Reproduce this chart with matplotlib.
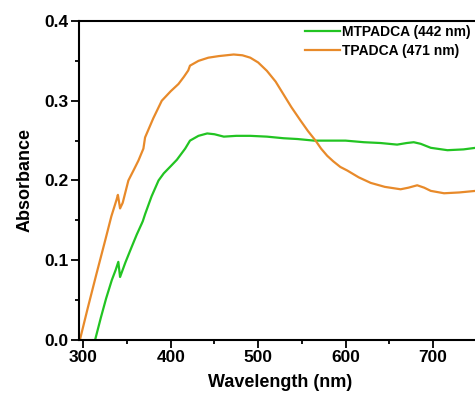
import matplotlib
matplotlib.use("Agg")
import matplotlib.pyplot as plt
from matplotlib.ticker import MultipleLocator, FormatStrFormatter

# MTPADCA (green)
mtpadca_wl = [313.4, 320, 326, 332.5, 337, 340, 342, 348, 355, 361, 366.8, 368, 370.7,
              378, 386, 392, 400, 407, 416.5, 422, 431.7, 441.7, 450, 460.7, 475, 491, 510,
              529, 545, 564, 583, 600, 621, 640, 659, 670, 678, 686, 697.5, 716.6, 735, 749]
mtpadca_abs = [0.0, 0.028, 0.052, 0.075, 0.088, 0.098, 0.079, 0.097, 0.116, 0.132, 0.146,
               0.149, 0.158, 0.180, 0.200, 0.209, 0.218, 0.226, 0.240, 0.250, 0.256, 0.259,
               0.258, 0.255, 0.256, 0.256, 0.255, 0.253, 0.252, 0.250, 0.250, 0.250, 0.248,
               0.247, 0.245, 0.247, 0.248, 0.246, 0.241, 0.238, 0.239, 0.241]

# TPADCA (orange)
tpadca_wl = [296, 305, 315, 325, 332, 338, 339.5, 342, 345, 351.5, 358, 363, 368.7, 370.6,
             380, 389.7, 400, 408.8, 415, 420, 422, 431.7, 443, 455, 472, 482, 491, 500,
             510, 520, 529, 538, 548.6, 557, 565.7, 572, 579, 586, 594, 602, 615, 628.8,
             645, 663, 672, 682, 690, 697.5, 712.7, 730, 749]
tpadca_abs = [0.0, 0.040, 0.083, 0.125, 0.155, 0.176, 0.182, 0.165, 0.172, 0.200, 0.214,
              0.225, 0.240, 0.254, 0.278, 0.300, 0.312, 0.321, 0.330, 0.338, 0.344, 0.350,
              0.354, 0.356, 0.358, 0.357, 0.354, 0.348, 0.3375, 0.324, 0.308, 0.292,
              0.275, 0.262, 0.250, 0.240, 0.231, 0.224, 0.217, 0.2125, 0.204, 0.197,
              0.192, 0.189, 0.191, 0.194, 0.191, 0.187, 0.184, 0.185, 0.187]

labels = ["MTPADCA (442 nm)", "TPADCA (471 nm)"]
colors = ["#22c422", "#e88a2a"]

plt.rcParams["font.family"] = ["Liberation Sans", "DejaVu Sans"]
plt.rcParams["font.weight"] = "bold"

fig = plt.figure(figsize=(4.75, 3.96), dpi=100)
# axes runs just past the right edge: the reference image is cropped there
ax = fig.add_axes([79 / 475, 56 / 396, 402 / 475, 319 / 396])

ax.plot(mtpadca_wl, mtpadca_abs, color=colors[0], lw=1.6, label=labels[0])
ax.plot(tpadca_wl, tpadca_abs, color=colors[1], lw=1.6, label=labels[1])

ax.set_xlim(295, 755)
ax.set_ylim(0, 0.4)
ax.xaxis.set_major_locator(MultipleLocator(100))
ax.xaxis.set_minor_locator(MultipleLocator(50))
ax.yaxis.set_major_locator(MultipleLocator(0.1))
ax.yaxis.set_minor_locator(MultipleLocator(0.05))
ax.yaxis.set_major_formatter(FormatStrFormatter("%.1f"))

ax.tick_params(which="major", direction="out", length=5.5, width=1.3, labelsize=12.5, pad=2)
ax.tick_params(which="minor", direction="out", length=3, width=1.3)
for s in ax.spines.values():
    s.set_linewidth(1.5)

ax.set_xlabel("Wavelength (nm)", fontsize=13, fontweight="bold", labelpad=6)
ax.set_ylabel("Absorbance", fontsize=13, fontweight="bold", labelpad=8)

ax.legend(loc="upper left", bbox_to_anchor=(305 / 475, 1 - 25 / 396),
          bbox_transform=fig.transFigure, frameon=False, fontsize=10,
          handlelength=2.5, handletextpad=0.2, labelspacing=0.35,
          borderpad=0, borderaxespad=0)

fig.savefig("out.png", dpi=100)
